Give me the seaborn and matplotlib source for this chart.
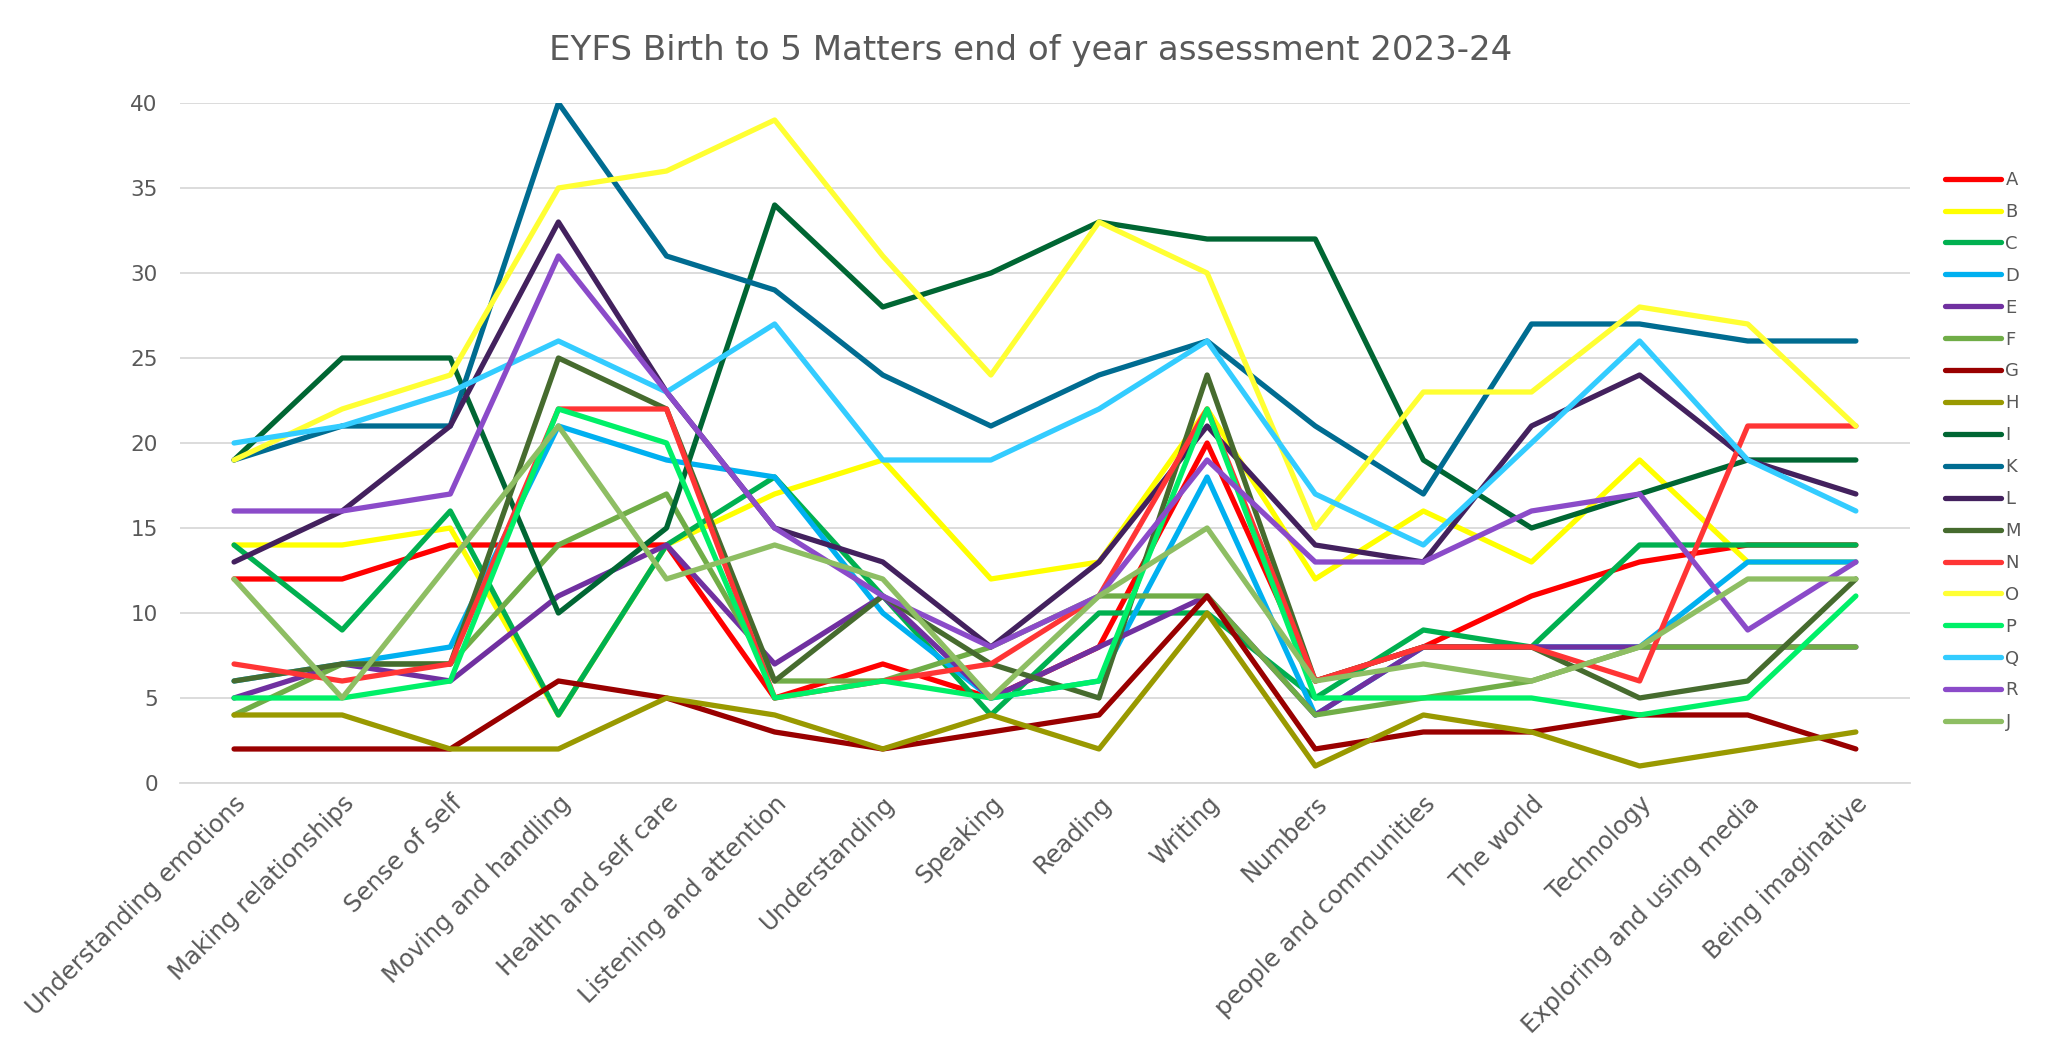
import pandas as pd
import numpy as np
import matplotlib
matplotlib.use("Agg")
import matplotlib.pyplot as plt
import seaborn as sns

# areas of learning (x axis)
areas = ["Understanding emotions", "Making relationships", "Sense of self",
         "Moving and handling", "Health and self care", "Listening and attention",
         "Understanding", "Speaking", "Reading", "Writing", "Numbers",
         "people and communities", "The world", "Technology",
         "Exploring and using media", "Being imaginative"]

# one list per series
A = [12, 12, 14, 14, 14, 5, 7, 5, 8, 20, 6, 8, 11, 13, 14, 14]
B = [14, 14, 15, 4, 14, 17, 19, 12, 13, 22, 12, 16, 13, 19, 13, 13]
C = [14, 9, 16, 4, 14, 18, 11, 4, 10, 10, 5, 9, 8, 14, 14, 14]
D = [6, 7, 8, 21, 19, 18, 10, 5, 6, 18, 4, 8, 8, 8, 13, 13]
E = [5, 7, 6, 11, 14, 7, 11, 5, 8, 11, 4, 8, 8, 8, 8, 8]
F = [4, 7, 7, 14, 17, 6, 6, 8, 11, 11, 4, 5, 6, 8, 8, 8]
G = [2, 2, 2, 6, 5, 3, 2, 3, 4, 11, 2, 3, 3, 4, 4, 2]
H = [4, 4, 2, 2, 5, 4, 2, 4, 2, 10, 1, 4, 3, 1, 2, 3]
I = [19, 25, 25, 10, 15, 34, 28, 30, 33, 32, 32, 19, 15, 17, 19, 19]
K = [19, 21, 21, 40, 31, 29, 24, 21, 24, 26, 21, 17, 27, 27, 26, 26]
L = [13, 16, 21, 33, 23, 15, 13, 8, 13, 21, 14, 13, 21, 24, 19, 17]
M = [6, 7, 7, 25, 22, 6, 11, 7, 5, 24, 6, 8, 8, 5, 6, 12]
N = [7, 6, 7, 22, 22, 5, 6, 7, 11, 22, 6, 8, 8, 6, 21, 21]
O = [19, 22, 24, 35, 36, 39, 31, 24, 33, 30, 15, 23, 23, 28, 27, 21]
P = [5, 5, 6, 22, 20, 5, 6, 5, 6, 22, 5, 5, 5, 4, 5, 11]
Q = [20, 21, 23, 26, 23, 27, 19, 19, 22, 26, 17, 14, 20, 26, 19, 16]
R = [16, 16, 17, 31, 23, 15, 11, 8, 11, 19, 13, 13, 16, 17, 9, 13]
J = [12, 5, 13, 21, 12, 14, 12, 5, 11, 15, 6, 7, 6, 8, 12, 12]

series = {"A": A, "B": B, "C": C, "D": D, "E": E, "F": F, "G": G, "H": H,
          "I": I, "K": K, "L": L, "M": M, "N": N, "O": O, "P": P, "Q": Q,
          "R": R, "J": J}

colours = {"A": "#FF0000", "B": "#FFFF00", "C": "#00B050", "D": "#00B0F0",
           "E": "#7030A0", "F": "#70AD47", "G": "#990000", "H": "#999900",
           "I": "#006633", "K": "#006C91", "L": "#43215E", "M": "#466B2E",
           "N": "#FF3535", "O": "#FFFF33", "P": "#00F068", "Q": "#33CCFF",
           "R": "#8B4BC9", "J": "#8EBE63"}

rows = []
for name, vals in series.items():
    for area, v in zip(areas, vals):
        rows.append({"area": area, "score": v, "series": name})
df = pd.DataFrame(rows)

sns.set_style("white")
plt.rcParams["font.family"] = ["DejaVu Sans"]
txt = "#595959"

fig = plt.figure(figsize=(20.57, 10.5), dpi=100)
ax = fig.add_axes([0.0875, 0.2543, 0.841, 0.6476])

sns.lineplot(data=df, x="area", y="score", hue="series",
             hue_order=list(series.keys()), palette=colours,
             sort=False, linewidth=3.8, ax=ax, legend=False)
for ln in ax.lines:
    ln.set_solid_joinstyle("round")
    ln.set_solid_capstyle("round")

ax.set_xlim(-0.5, len(areas) - 0.5)
ax.set_ylim(0, 40)
ax.set_yticks(np.arange(0, 41, 5))
ax.yaxis.grid(True, color="#D9D9D9", linewidth=1.3)
ax.set_axisbelow(True)
for s in ["top", "right", "left"]:
    ax.spines[s].set_visible(False)
ax.spines["bottom"].set_color("#D9D9D9")
ax.spines["bottom"].set_linewidth(1.3)
ax.tick_params(axis="x", length=0, labelsize=17.5, colors=txt, pad=6)
ax.tick_params(axis="y", length=0, labelsize=15.5, colors=txt, pad=16)
plt.setp(ax.get_xticklabels(), rotation=45, ha="right", rotation_mode="anchor")
ax.set_xlabel("")
ax.set_ylabel("")

fig.text(0.501, 0.952, "EYFS Birth to 5 Matters end of year assessment 2023-24",
         ha="center", va="center", fontsize=24.5, color=txt)

handles = [plt.Line2D([], [], color=colours[k], linewidth=3.8,
                      solid_capstyle="round") for k in series]
fig.legend(handles, list(series.keys()), loc="upper left",
           bbox_to_anchor=(1945 / 2057, 1 - 171 / 1050), frameon=False,
           fontsize=13, labelspacing=0.77, handlelength=3.1,
           handletextpad=0.25, borderpad=0, borderaxespad=0,
           labelcolor=txt)

fig.savefig("out.png", dpi=100)
